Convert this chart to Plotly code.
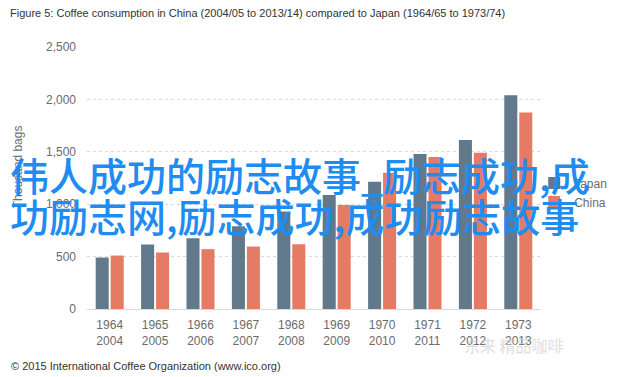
import plotly.graph_objects as go

years_japan = ["1964", "1965", "1966", "1967", "1968", "1969", "1970", "1971", "1972", "1973"]
years_china = ["2004", "2005", "2006", "2007", "2008", "2009", "2010", "2011", "2012", "2013"]
japan_values = [491, 615, 676, 790, 930, 1088, 1215, 1479, 1612, 2040]
china_values = [510, 539, 571, 596, 619, 993, 1300, 1450, 1491, 1876]
y_ticks = [0, 500, 1000, 1500, 2000, 2500]

categories = [f"{j}<br>{c}" for j, c in zip(years_japan, years_china)]

JAPAN_COLOR = "#62798b"
CHINA_COLOR = "#e57b64"
TICK_COLOR = "#6b6b6b"

# The page body has an 8px default margin; the figure is laid out so that
# positions in the browser window match the reference.
PAGE_OFF = 8
PLOT_L, PLOT_R, PLOT_T, PLOT_B = 87, 540.6, 47, 309.3  # in window pixels
PW, PH = PLOT_R - PLOT_L, PLOT_B - PLOT_T
W, H = 640 - PAGE_OFF, 377 - PAGE_OFF


def px(x):
    return (x - PLOT_L) / PW


def py(y):
    return (PLOT_B - y) / PH


fig = go.Figure()
fig.add_trace(go.Bar(x=categories, y=japan_values, name="Japan",
                     marker=dict(color=JAPAN_COLOR, line=dict(width=0)),
                     legendgroup="j"))
fig.add_trace(go.Bar(x=categories, y=china_values, name="China",
                     marker=dict(color=CHINA_COLOR, line=dict(width=0)),
                     legendgroup="c"))

fig.update_layout(
    width=W, height=H,
    margin=dict(l=PLOT_L - PAGE_OFF, r=W - (PLOT_R - PAGE_OFF),
                t=PLOT_T - PAGE_OFF, b=H - (PLOT_B - PAGE_OFF), autoexpand=False),
    paper_bgcolor="white", plot_bgcolor="white",
    barmode="group", bargap=0.34, bargroupgap=0.13,
    font=dict(family="Liberation Sans, Arial, sans-serif", size=12, color=TICK_COLOR),
    showlegend=True,
    legend=dict(x=0.985, y=py(168.6), xanchor="left", yanchor="top",
                font=dict(size=12, color=TICK_COLOR), bgcolor="rgba(0,0,0,0)",
                tracegroupgap=7, traceorder="normal"),
    xaxis=dict(showgrid=False, showline=False, ticks="", ticklabelstandoff=7,
               tickfont=dict(size=12, color=TICK_COLOR)),
    yaxis=dict(range=[0, 2500], tickvals=y_ticks, tickformat=",", showgrid=True,
               gridcolor="#d9d9d9", griddash="dot", gridwidth=1,
               zeroline=True, zerolinecolor="#d9d9d9", zerolinewidth=1,
               showline=False, ticks="", ticklabelstandoff=10,
               tickfont=dict(size=12, color=TICK_COLOR)),
)

annotations = [
    dict(text="Figure 5: Coffee consumption in China (2004/05 to 2013/14) compared to Japan (1964/65 to 1973/74)",
         xref="paper", yref="paper", x=px(8), y=py(13),
         xanchor="left", yanchor="middle", showarrow=False,
         font=dict(family="Liberation Sans, Arial, sans-serif", size=11, color="#333333")),
    dict(text="Thousand bags", xref="paper", yref="paper", x=px(18), y=py(166.5),
         xanchor="center", yanchor="middle", textangle=-90, showarrow=False,
         font=dict(size=12, color=TICK_COLOR)),
    dict(text="© 2015 International Coffee Organization (www.ico.org)",
         xref="paper", yref="paper", x=px(9), y=py(366),
         xanchor="left", yanchor="middle", showarrow=False,
         font=dict(size=11, color="#333333")),
    dict(text="东来 精品咖啡", xref="paper", yref="paper", x=px(462), y=py(345),
         xanchor="left", yanchor="middle", showarrow=False,
         font=dict(family="Noto Sans CJK SC", size=16, color="rgba(200,200,200,0.6)")),
    dict(text="伟人成功的励志故事_励志成功,成", xref="paper", yref="paper",
         x=px(8), y=py(174), xanchor="left", yanchor="middle", showarrow=False,
         font=dict(family="Noto Sans CJK SC", size=39, color="#1e8cf0", weight=500)),
    dict(text="功励志网,励志成功,成功励志故事", xref="paper", yref="paper",
         x=px(8), y=py(215), xanchor="left", yanchor="middle", showarrow=False,
         font=dict(family="Noto Sans CJK SC", size=39, color="#1e8cf0", weight=500)),
]
fig.update_layout(annotations=annotations)

fig.write_html("out.html")
